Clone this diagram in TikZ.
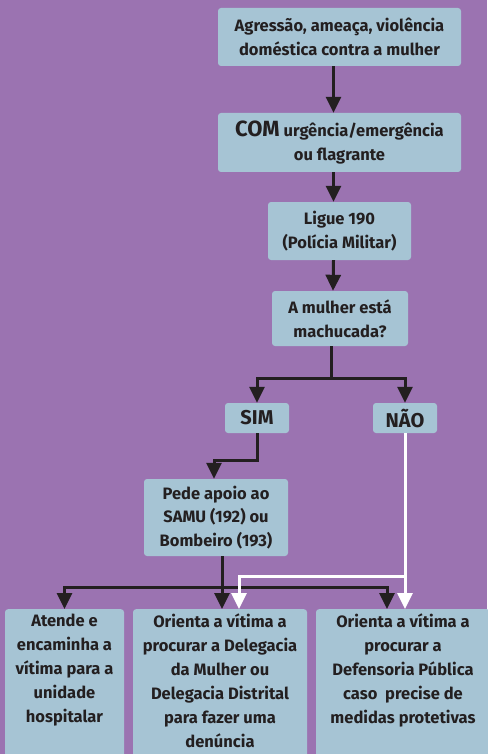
\documentclass[tikz,border=0pt]{standalone}
\usepackage{fontspec}
\setmainfont{Fira Sans}
\usetikzlibrary{arrows.meta}
\usetikzlibrary{positioning}
\definecolor{roxo}{HTML}{9B73B1}
\definecolor{azul}{HTML}{A6C4D4}
\definecolor{tinta}{HTML}{231F20}
\tikzstyle{caixa} = [
    rectangle, 
    rounded corners=3pt, 
    fill=azul, 
    text=tinta, 
    font=\bfseries\fontsize{16.5}{23.5}\selectfont, 
    align=center, 
    inner sep=0pt
]
\tikzstyle{caixa_baixo} = [
    caixa, 
    anchor=north, 
    font=\bfseries\fontsize{16.5}{24}\selectfont, 
    inner ysep=5pt % texto colado ao topo
]
\tikzstyle{resposta} = [
    caixa, 
    font=\bfseries\fontsize{20}{23.5}\selectfont, 
    minimum width=64, 
    minimum height=30
]
\tikzstyle{seta} = [
    draw=tinta, 
    line width=3pt, 
    -{Triangle[length=16pt, width=15pt]}
]
\tikzstyle{seta_branca} = [
    seta, 
    draw=white
]
\begin{document}
\begin{tikzpicture}[x=1pt, y=-1pt]
\useasboundingbox (0,0) rectangle (487,754);
\fill[roxo] (0,0) rectangle (487,754);

\node [caixa, minimum width=243, minimum height=58] (agressao) at (339.5,37)
    {Agressão, ameaça, violência\\doméstica contra a mulher};
\node [caixa, minimum width=243, minimum height=59] (com) at (339.5,142.5)
    {{\fontsize{22}{23}\selectfont COM} urgência/emergência\\ou flagrante};
\node [caixa, minimum width=143, minimum height=58] (ligue) at (339.5,231)
    {Ligue 190\\(Polícia Militar)};
\node [caixa, minimum width=136, minimum height=55] (machucada) at (340,318.5)
    {A mulher está\\machucada?};
\node [resposta] (sim) at (257,418) {SIM};
\node [resposta] (nao) at (405,418) {NÃO};
\node [caixa, minimum width=144, minimum height=77] (pede) at (216,517.5)
    {Pede apoio ao\\SAMU (192) ou\\Bombeiro (193)};
\node [caixa_baixo, minimum width=119] (atende) at (64.5,609)
    {Atende e\\encaminha a\\vítima para a\\unidade\\hospitalar\\~\\~};
\node [caixa_baixo, minimum width=174] (delegacia) at (220,609)
    {Orienta a vítima a\\procurar a Delegacia\\da Mulher ou\\Delegacia Distrital\\para fazer uma\\denúncia\\~};
\node [caixa_baixo, minimum width=174] (defensoria) at (403,609)
    {Orienta a vítima a\\procurar a\\Defensoria Pública\\caso\ \ precise de\\medidas protetivas\\~\\~};

\coordinate (galho) at (331,378);
\coordinate (tronco) at (222,587);

\draw [seta] ([xshift=-6]agressao.south) -- ([xshift=-6]com.north);
\draw [seta] ([xshift=-6]com.south) -- ([xshift=-6]ligue.north);
\draw [seta] ([xshift=-6]ligue.south) -- ([xshift=-7]machucada.north);
\draw [seta, -] (machucada.south -| galho) -- (galho);
\draw [seta] (galho) -| (sim.north);
\draw [seta] (galho) -| (nao.north);
\draw [seta] (sim.south) -- ++(0,27) -| ([xshift=-2]pede.north);
\draw [seta, -] (pede.south -| tronco) -- (tronco);
\draw [seta] (tronco) -| (atende.north);
\draw [seta] (tronco) -- (tronco |- delegacia.north);
\draw [seta] (tronco) -| ([xshift=-16]defensoria.north);
\draw [seta_branca] (nao.south) -- ([xshift=2]defensoria.north);
\draw [seta_branca] (nao.south |- 0,576) -| ([xshift=19]delegacia.north);
\end{tikzpicture}
\end{document}
